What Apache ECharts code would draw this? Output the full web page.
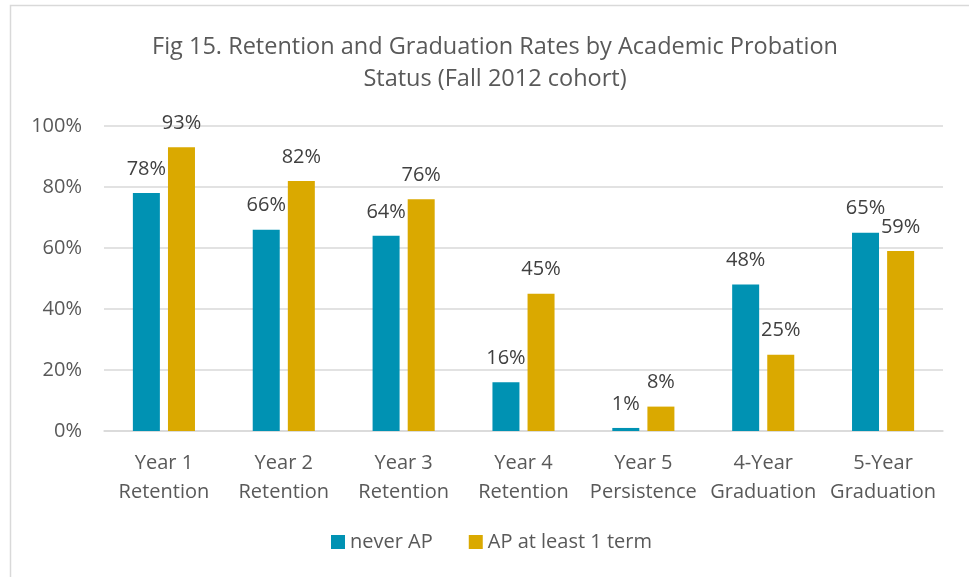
<!DOCTYPE html>
<html>
<head>
<meta charset="utf-8">
<script src="https://cdn.jsdelivr.net/npm/echarts@6/dist/echarts.min.js"></script>
<style>
  html, body { margin: 0; padding: 0; background: #fff; }
  #chart { width: 969px; height: 577px; }
</style>
</head>
<body>
<div id="chart"></div>
<script>
const categories = ["Year 1\nRetention", "Year 2\nRetention", "Year 3\nRetention", "Year 4\nRetention",
  "Year 5\nPersistence", "4-Year\nGraduation", "5-Year\nGraduation"];
const neverAP = [78, 66, 64, 16, 1, 48, 65];
const apAtLeastOne = [93, 82, 76, 45, 8, 25, 59];
const yTicks = [0, 20, 40, 60, 80, 100];

const font = "Open Sans";
const textColor = "#595959";

const chart = echarts.init(document.getElementById("chart"));

function barSeries(name, data, color) {
  return {
    name: name,
    type: "bar",
    data: data,
    barWidth: 27,
    barGap: "30%",
    itemStyle: { color: color },
    label: {
      show: true,
      position: "top",
      distance: 14,
      formatter: "{c}%",
      fontFamily: font,
      fontSize: 20,
      color: "#404040"
    }
  };
}

chart.setOption({
  animation: false,
  backgroundColor: "#fff",
  graphic: [{
    type: "rect",
    shape: { x: 10.5, y: 5.5, width: 980, height: 600 },
    style: { fill: "none", stroke: "#d9d9d9", lineWidth: 1.5 },
    silent: true
  }],
  title: {
    text: "Fig 15. Retention and Graduation Rates by Academic Probation\nStatus (Fall 2012 cohort)",
    left: 490,
    textAlign: "center",
    top: 26,
    textStyle: {
      fontFamily: font,
      fontSize: 23.5,
      fontWeight: "normal",
      color: textColor,
      lineHeight: 32
    }
  },
  legend: {
    bottom: 20,
    left: 326,
    itemWidth: 14,
    itemHeight: 14,
    itemGap: 36,
    icon: "rect",
    textStyle: { fontFamily: font, fontSize: 20, color: textColor }
  },
  grid: { left: 104, right: 26, top: 126, bottom: 146 },
  xAxis: {
    type: "category",
    data: categories,
    axisLine: { lineStyle: { color: "#d9d9d9", width: 1.5 } },
    axisTick: { show: false },
    axisLabel: {
      fontFamily: font, fontSize: 20, color: textColor,
      lineHeight: 29, margin: 18, interval: 0
    }
  },
  yAxis: {
    type: "value",
    min: yTicks[0],
    max: yTicks[yTicks.length - 1],
    interval: 20,
    axisLine: { show: false },
    axisTick: { show: false },
    splitLine: { lineStyle: { color: "#d9d9d9", width: 1.5 } },
    axisLabel: {
      formatter: "{value}%",
      fontFamily: font, fontSize: 20, color: textColor, margin: 22
    }
  },
  series: [
    barSeries("never AP", neverAP, "#0092B3"),
    barSeries("AP at least 1 term", apAtLeastOne, "#DAA900")
  ]
});
</script>
</body>
</html>
